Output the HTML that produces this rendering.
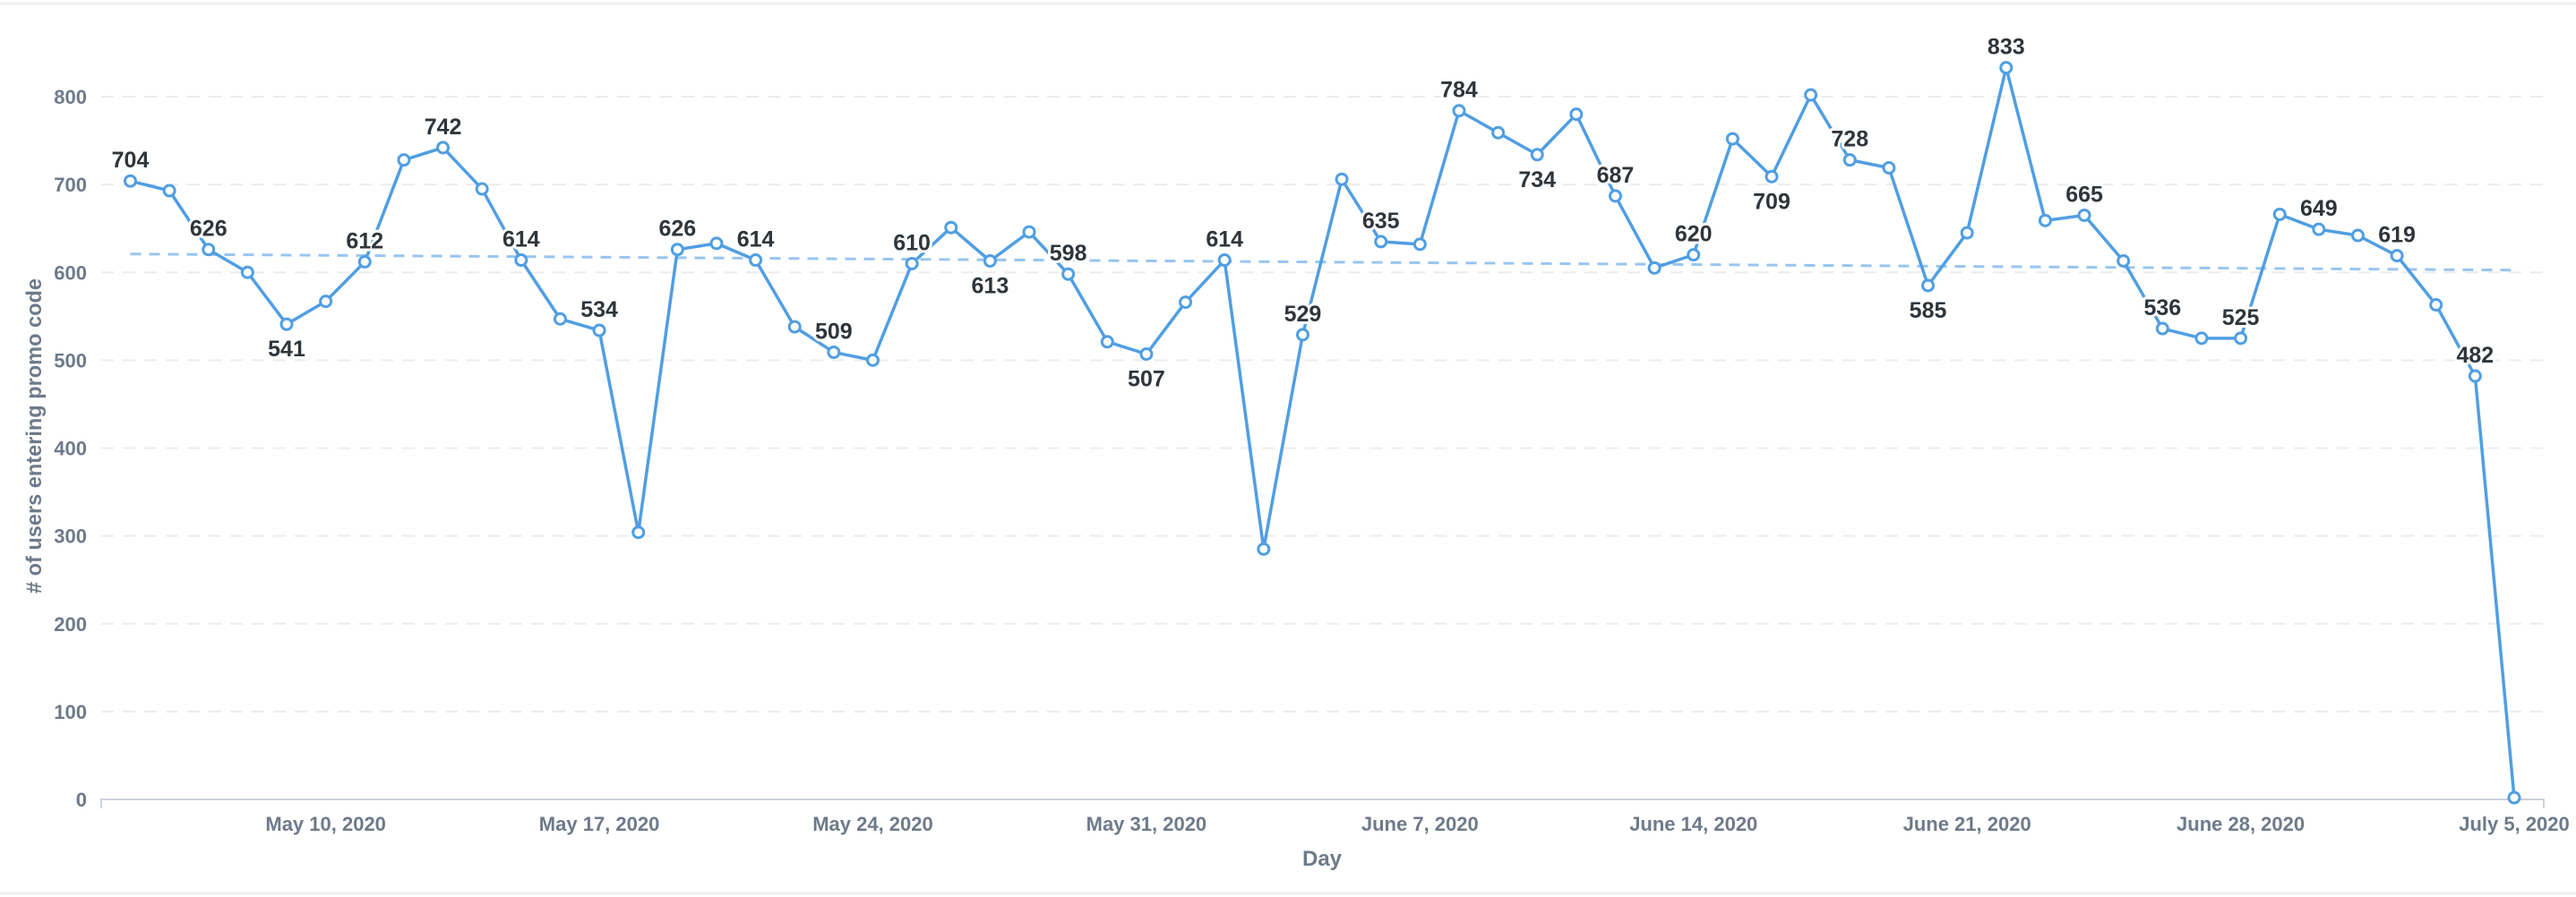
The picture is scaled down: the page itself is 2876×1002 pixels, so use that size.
<!DOCTYPE html>
<html><head><meta charset="utf-8"><style>
html,body{margin:0;padding:0;background:#fff;}
svg{display:block;font-family:"Liberation Sans",sans-serif;}
</style></head><body>
<svg id="chart" width="2876" height="1002" viewBox="0 0 2876 1002">
<line x1="0" y1="4" x2="2876" y2="4" stroke="#eeeff1" stroke-width="3"/>
<line x1="0" y1="998" x2="2876" y2="998" stroke="#eeeff1" stroke-width="3"/>
<g id="grid"></g>
<g id="yticks"></g>
<g id="xticks"></g>
<text transform="translate(46,487) rotate(-90)" text-anchor="middle" font-size="24" font-weight="bold" fill="#6d7a8a" textLength="352" lengthAdjust="spacingAndGlyphs"># of users entering promo code</text>
<text x="1476" y="967" text-anchor="middle" font-size="24" font-weight="bold" fill="#6d7a8a">Day</text>
<g id="trend"></g>
<g id="series"></g>
<g id="labels"></g>
</svg>
<script>
const values = [704,693,626,600,541,567,612,728,742,695,614,547,534,304,626,633,614,538,509,500,610,651,613,646,598,521,507,566,614,285,529,706,635,632,784,759,734,780,687,605,620,752,709,802,728,719,585,645,833,659,665,613,536,525,525,666,649,642,619,563,482,2];
const belowLabels = [4,22,26,36,42,46];
const yTicks = [0,100,200,300,400,500,600,700,800];
const xTickLabels = ["May 10, 2020","May 17, 2020","May 24, 2020","May 31, 2020","June 7, 2020","June 14, 2020","June 21, 2020","June 28, 2020","July 5, 2020"];
const xTickIndex = [5,12,19,26,33,40,47,54,61];

const NS="http://www.w3.org/2000/svg";
const X0=145.5, X1=2807, Y0=893, Y800=108, PL=113, PR=2840;
const n=values.length;
const xs=i=>X0+(X1-X0)*i/(n-1);
const ys=v=>Y0+(Y800-Y0)*v/800;
function mk(tag,attrs,parent){const e=document.createElementNS(NS,tag);for(const k in attrs)e.setAttribute(k,attrs[k]);parent.appendChild(e);return e;}
const grid=document.getElementById('grid'),yt=document.getElementById('yticks'),xt=document.getElementById('xticks');
yTicks.forEach(t=>{
  if(t>0){const g=mk('line',{x1:PL,x2:PR,y1:ys(t),y2:ys(t),stroke:'#ececec','stroke-width':2,'stroke-dasharray':'14 10'},grid);
  
  }
  const tx=mk('text',{x:97,y:ys(t)+8,'text-anchor':'end','font-size':22,'font-weight':'bold',fill:'#6d7a8a'},yt);
  tx.textContent=t;
  
  
});
const ax=mk('path',{d:`M${PL} 903 V${Y0} H${PR} V903`,fill:'none',stroke:'#ccd2da','stroke-width':2},xt);


xTickLabels.forEach((l,k)=>{
  const tx=mk('text',{x:xs(xTickIndex[k]),y:928,'text-anchor':'middle','font-size':22,'font-weight':'bold',fill:'#6d7a8a'},xt);
  tx.textContent=l;
  
  
});
let sx=0,sy=0,sxy=0,sxx=0;values.forEach((v,i)=>{sx+=i;sy+=v;sxy+=i*v;sxx+=i*i;});
const b=(n*sxy-sx*sy)/(n*sxx-sx*sx),a=(sy-b*sx)/n;
const tr=mk('line',{x1:xs(0),y1:ys(a),x2:xs(n-1),y2:ys(a+b*(n-1)),stroke:'#98c5ef','stroke-width':3,'stroke-dasharray':'12 9'},document.getElementById('trend'));


const ser=document.getElementById('series');
const ln=mk('polyline',{points:values.map((v,i)=>xs(i)+','+ys(v)).join(' '),fill:'none',stroke:'#509ee3','stroke-width':3.5,'stroke-linejoin':'round'},ser);


values.forEach((v,i)=>{
  const c=mk('circle',{cx:xs(i),cy:ys(v),r:6,fill:'#fff',stroke:'#509ee3','stroke-width':3},ser);
  
  
});
const lab=document.getElementById('labels');
values.forEach((v,i)=>{
  if(i%2!==0)return;
  const below=belowLabels.includes(i);
  const t=mk('text',{x:xs(i),y:below?ys(v)+36:ys(v)-15,'text-anchor':'middle','font-size':25,'font-weight':'bold',fill:'#2e353b',stroke:'#fff','stroke-width':6,'paint-order':'stroke','stroke-linejoin':'round'},lab);
  t.textContent=v;
  
  
});
</script>
</body></html>
